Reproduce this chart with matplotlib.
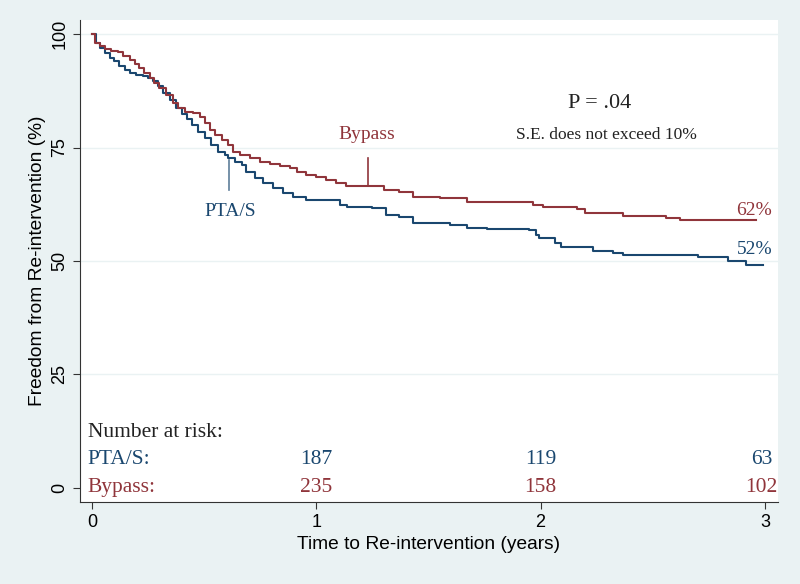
import numpy as np
import matplotlib.pyplot as plt

# Kaplan-Meier step points (years, % free)
pta_t = [0.0, 0.019, 0.034, 0.057, 0.079, 0.10, 0.123, 0.146, 0.168, 0.197, 0.227,
         0.249, 0.272, 0.294, 0.316, 0.346, 0.376, 0.40, 0.425, 0.444, 0.473, 0.503,
         0.533, 0.563, 0.592, 0.607, 0.64, 0.668, 0.689, 0.726, 0.763, 0.808, 0.852,
         0.897, 0.956, 1.105, 1.135, 1.25, 1.31, 1.37, 1.43, 1.595, 1.67, 1.76, 1.95,
         1.98, 1.995, 2.047, 2.062, 2.092, 2.233, 2.322, 2.367, 2.70, 2.834, 2.916, 2.99]
pta_s = [100, 98.0, 96.9, 95.8, 94.7, 94.0, 92.9, 92.1, 91.4, 91.0, 90.7,
         90.4, 89.6, 88.5, 87.0, 85.5, 83.7, 82.3, 81.2, 80.0, 78.5, 77.0,
         75.6, 74.1, 73.3, 72.6, 71.8, 71.1, 69.7, 68.2, 67.1, 66.0, 64.9,
         64.2, 63.4, 62.3, 61.9, 61.7, 60.1, 59.7, 58.3, 57.9, 57.3, 57.0, 56.8,
         55.7, 55.1, 55.0, 53.9, 53.1, 52.2, 51.8, 51.3, 50.8, 50.1, 49.1, 49.1]

byp_t = [0.0, 0.015, 0.034, 0.057, 0.086, 0.116, 0.138, 0.168, 0.19, 0.212, 0.234,
         0.257, 0.279, 0.301, 0.331, 0.361, 0.384, 0.414, 0.451, 0.481, 0.503, 0.526,
         0.548, 0.578, 0.607, 0.63, 0.66, 0.704, 0.748, 0.793, 0.837, 0.882, 0.912,
         0.956, 1.0, 1.045, 1.09, 1.134, 1.30, 1.37, 1.43, 1.55, 1.67, 1.964, 2.009,
         2.16, 2.196, 2.365, 2.56, 2.62, 2.962]
byp_s = [100, 98.0, 97.3, 96.8, 96.3, 96.0, 95.1, 94.3, 93.3, 92.5, 91.4,
         90.3, 89.2, 88.1, 86.6, 84.8, 83.6, 82.9, 82.5, 81.8, 80.3, 78.9,
         77.8, 76.7, 75.6, 74.1, 73.3, 72.6, 71.9, 71.4, 70.9, 70.4, 69.7,
         68.9, 68.4, 67.8, 67.1, 66.6, 65.6, 65.2, 64.1, 63.9, 63.0, 62.3, 61.9,
         61.4, 60.6, 60.0, 59.5, 59.0, 59.0]

risk_times = [1, 2, 2.985]
risk_pta = [187, 119, 63]
risk_byp = [235, 158, 102]

navy = '#1a476f'
maroon = '#90353b'
bg = '#eaf2f3'
serif = 'Liberation Serif'
sans = 'Liberation Sans'

fig = plt.figure(figsize=(8, 5.84), dpi=100, facecolor=bg)
ax = fig.add_axes([0.1, 0.1404, 0.8725, 0.8254])
ax.set_facecolor('white')

ax.step(pta_t, pta_s, where='post', color=navy, lw=1.5)
ax.step(byp_t, byp_s, where='post', color=maroon, lw=1.5)

ax.set_xlim(-0.053, 3.058)
ax.set_ylim(-3.1, 103.1)
ax.set_xticks([0, 1, 2, 3])
ax.set_yticks([0, 25, 50, 75, 100])
ax.set_yticklabels(['0', '25', '50', '75', '100'], rotation=90, va='center')
for y in [25, 50, 75, 100]:
    ax.axhline(y, color=bg, lw=1, zorder=0)

for s in ['top', 'right']:
    ax.spines[s].set_visible(False)
for s in ['left', 'bottom']:
    ax.spines[s].set_color('#333333')
ax.tick_params(direction='out', length=5, color='#333333', labelsize=13)
for lab in ax.get_xticklabels() + ax.get_yticklabels():
    lab.set_fontfamily(sans)

ax.set_xlabel('Time to Re-intervention (years)', fontsize=13.8, family=sans)
ax.set_ylabel('Freedom from Re-intervention (%)', fontsize=13.8, family=sans)

# curve labels
ax.text(1.225, 77.8, 'Bypass', color=maroon, fontsize=14, family=serif, ha='center', va='center')
ax.plot([1.23, 1.23], [66.7, 72.7], color=maroon, lw=1.2)
ax.text(0.615, 60.8, 'PTA/S', color=navy, fontsize=14, family=serif, ha='center', va='center')
ax.plot([0.61, 0.61], [65.6, 72.2], color=navy, lw=1.2, alpha=0.7)

ax.text(2.263, 84.8, 'P = .04', fontsize=16, family=serif, ha='center', va='center', color='#222222')
ax.text(2.294, 77.8, 'S.E. does not exceed 10%', fontsize=12.5, family=serif,
        ha='center', va='center', color='#222222')
ax.text(2.953, 61.2, '62%', color=maroon, fontsize=14, family=serif, ha='center', va='center')
ax.text(2.953, 52.6, '52%', color=navy, fontsize=14, family=serif, ha='center', va='center')

# number at risk table
ax.text(-0.018, 12.3, 'Number at risk:', fontsize=15.5, family=serif, ha='left', va='center', color='#222222')
ax.text(-0.018, 6.2, 'PTA/S:', fontsize=15.5, family=serif, ha='left', va='center', color=navy)
ax.text(-0.018, 0.2, 'Bypass:', fontsize=15.5, family=serif, ha='left', va='center', color=maroon)
for t, a, b in zip(risk_times, risk_pta, risk_byp):
    ax.text(t, 6.2, str(a), fontsize=15.5, family=serif, ha='center', va='center', color=navy)
    ax.text(t, 0.2, str(b), fontsize=15.5, family=serif, ha='center', va='center', color=maroon)

fig.savefig('out.png', dpi=100, facecolor=bg)
